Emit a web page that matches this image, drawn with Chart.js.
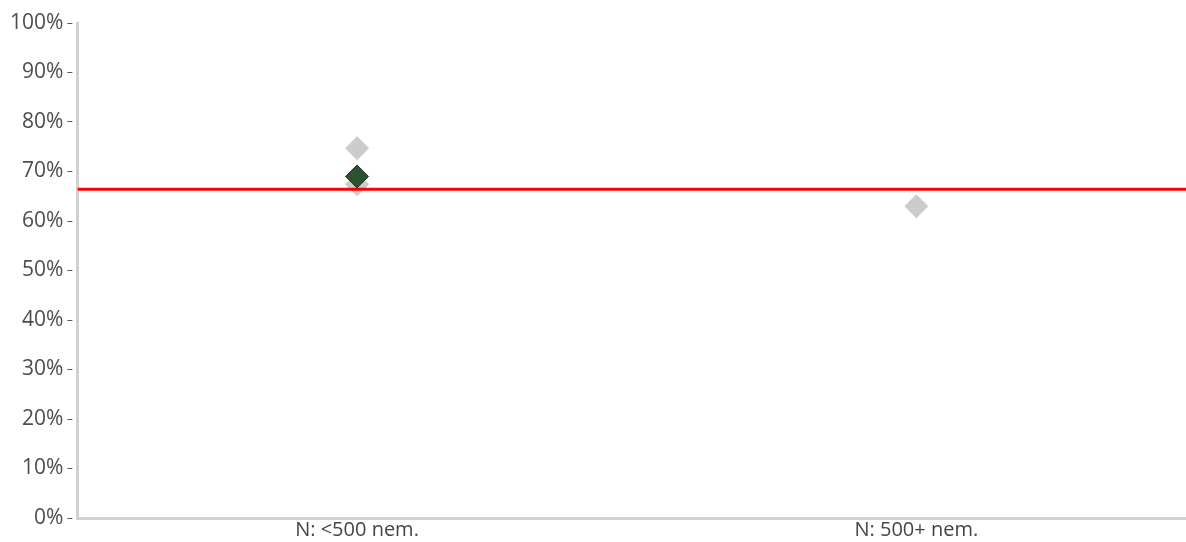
<!DOCTYPE html>
<html>
<head>
<meta charset="utf-8">
<script src="https://cdn.jsdelivr.net/npm/chart.js@4"></script>
<style>
  html, body { margin: 0; padding: 0; background: #fff; overflow: hidden; }
  #wrap { width: 1196px; height: 542px; position: relative; }
</style>
</head>
<body>
<div id="wrap"><canvas id="myChart"></canvas></div>
<script>
// data
var categories = ['N: <500 nem.', 'N: 500+ nem.'];
var greyUpper = [74.7, 63.0];
var greyLower = [67.4, null];
var highlight = [69.0, null];
var benchmark = 66.4;
var yTicks = [0, 10, 20, 30, 40, 50, 60, 70, 80, 90, 100];

var ctx = document.getElementById('myChart').getContext('2d');

var myChart = new Chart(ctx, {
    type: 'line',
    data: {
        labels: categories,
        datasets: [
            {
                label: 'highlight',
                data: highlight,
                showLine: false,
                pointStyle: 'rectRot',
                pointRadius: 11.5,
                pointBackgroundColor: '#2d5231',
                pointBorderColor: '#1d3520',
                pointBorderWidth: 1,
                order: 0
            },
            {
                label: 'benchmark',
                data: [{ x: 0, y: benchmark }, { x: 1, y: benchmark }],
                xAxisID: 'x2',
                borderColor: '#ff0000',
                borderWidth: 3,
                pointRadius: 0,
                order: 1
            },
            {
                label: 'grey lower',
                data: greyLower,
                showLine: false,
                pointStyle: 'rectRot',
                pointRadius: 12,
                pointBackgroundColor: '#cccccc',
                pointBorderColor: '#cccccc',
                pointBorderWidth: 0,
                order: 2
            },
            {
                label: 'grey upper',
                data: greyUpper,
                showLine: false,
                pointStyle: 'rectRot',
                pointRadius: 12,
                pointBackgroundColor: '#cccccc',
                pointBorderColor: '#cccccc',
                pointBorderWidth: 0,
                order: 3
            }
        ]
    },
    options: {
        responsive: true,
        maintainAspectRatio: false,
        animation: false,
        plugins: {
            legend: { display: false },
            tooltip: { enabled: false }
        },
        layout: {
            autoPadding: false,
            padding: { top: 23, left: 6, right: 0, bottom: 0 }
        },
        scales: {
            x: {
                offset: true,
                grid: { display: true, drawOnChartArea: false, drawTicks: false },
                border: { color: '#d0d0d0', width: 3 },
                ticks: {
                    color: '#454545',
                    font: { family: 'Open Sans', size: 20 },
                    padding: 0
                }
            },
            x2: {
                type: 'linear',
                display: false,
                min: 0,
                max: 1
            },
            y: {
                min: 0,
                max: 100,
                afterBuildTicks: function (axis) {
                    axis.ticks = yTicks.map(function (v) { return { value: v }; });
                },
                grid: {
                    drawOnChartArea: false,
                    tickLength: 10,
                    tickColor: '#595959',
                    tickWidth: 1,
                    tickBorderDash: [5, 20]
                },
                border: { color: '#d0d0d0', width: 3 },
                ticks: {
                    color: '#4d4d4d',
                    font: { family: 'Open Sans', size: 21 },
                    padding: 4,
                    callback: function (v) { return v + '%'; }
                }
            }
        }
    }
});
</script>
</body>
</html>
